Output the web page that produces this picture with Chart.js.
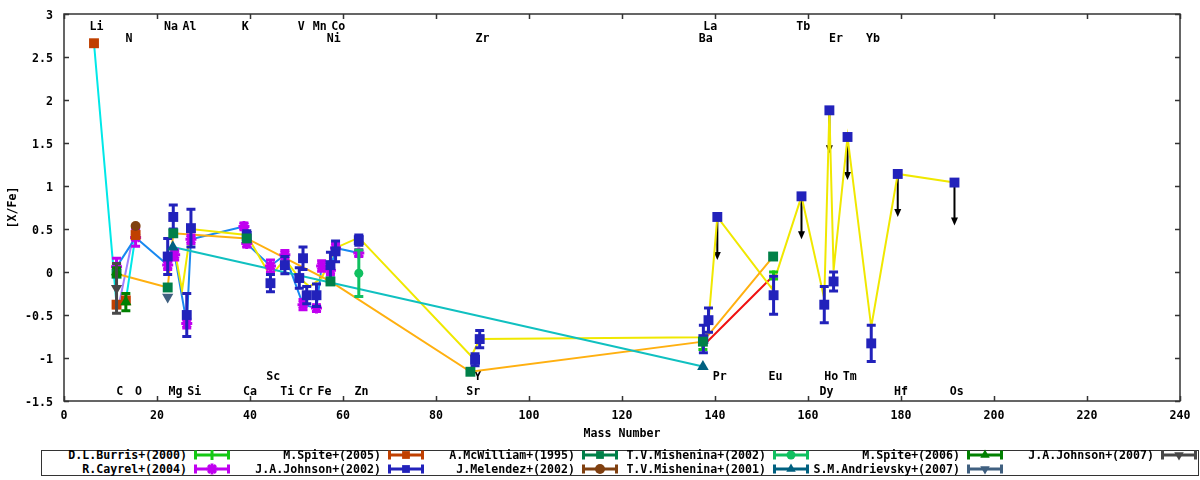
<!DOCTYPE html>
<html><head><meta charset="utf-8">
<script src="https://cdn.jsdelivr.net/npm/chart.js@4.4.1/dist/chart.umd.min.js"></script>
<style>
html,body{margin:0;padding:0;background:#fff;}
#wrap{position:relative;width:1200px;height:480px;overflow:hidden;background:#fff;}
#c{position:absolute;left:0;top:0;}
#legendBox{position:absolute;left:41px;top:449.5px;width:1158px;height:26.5px;border:1.5px solid #333;box-sizing:border-box;}
.lt{position:absolute;font:bold 11.6px "DejaVu Sans Mono",monospace;color:#000;white-space:nowrap;text-align:right;line-height:12px;width:220px;}
.ls{position:absolute;}
</style></head><body>
<div id="wrap"><canvas id="c" width="1200" height="446"></canvas><div id="legendBox"></div></div>
<script>
// ---------------- data ----------------
const elementNames = ['Li','N','Na','Al','K','V','Mn','Co','Ni','Zr','La','Ba','Tb','Er','Yb','Sc','Y','Pr','Eu','Ho','Tm','C','O','Mg','Si','Ca','Ti','Cr','Fe','Zn','Sr','Dy','Hf','Os'];
const elementMass  = [7,14,23,27,39,51,55,59,58,90,139,138,159,166,174,45,89,141,153,165,169,12,16,24,28,40,48,52,56,64,88,164,180,192];
const elementRow   = [0,1,0,0,0,0,0,0,1,1,0,1,0,1,1,2,2,2,2,2,2,3,3,3,3,3,3,3,3,3,3,3,3,3];

const xTicks = [0,20,40,60,80,100,120,140,160,180,200,220,240];
const yTicks = [-1.5,-1,-0.5,0,0.5,1,1.5,2,2.5,3];

const burrisX = [137.4, 152.6];
const burrisY = [-0.86, -0.04];
const burrisErr = [0.04, 0.04];

const cayrelX = [11.3, 15.4, 22.3, 23.8, 26.4, 27.3, 38.7, 39.3, 44.4, 47.5, 51.4, 54.3, 55.4, 57.3, 58.4, 63.4];
const cayrelY = [0.06, 0.40, 0.08, 0.20, -0.60, 0.38, 0.53, 0.33, 0.07, 0.20, -0.38, -0.42, 0.07, 0.02, 0.28, 0.22];
const cayrelErr = [0.10, 0.10, 0.05, 0.06, 0.05, 0.05, 0.04, 0.04, 0.07, 0.05, 0.06, 0.04, 0.06, 0.05, 0.05, 0.04];

const spite05X = [6.45, 11.3, 13.3, 15.4];
const spite05Y = [2.66, -0.38, -0.33, 0.43];
const spite05Err = [0, 0, 0, 0];

const johnson02X = [22.3, 23.5, 26.4, 27.3, 39.3, 44.4, 47.5, 50.6, 51.4, 52.2, 54.3, 57.3, 58.4, 63.4, 88.4, 89.4, 137.5, 138.6, 152.6, 163.5, 165.5, 173.6];
const johnson02Y = [0.18, 0.64, -0.50, 0.51, 0.42, -0.13, 0.08, -0.07, 0.16, -0.27, -0.27, 0.08, 0.24, 0.37, -1.02, -0.78, -0.78, -0.56, -0.27, -0.38, -0.11, -0.83];
const johnson02Err = [0.21, 0.14, 0.25, 0.22, 0.06, 0.10, 0.10, 0.12, 0.13, 0.10, 0.13, 0.15, 0.12, 0.06, 0.07, 0.10, 0.16, 0.14, 0.22, 0.21, 0.11, 0.21];
const johnson02LimX = [140.5, 158.6, 164.6, 168.5, 179.3, 191.5];
const johnson02LimY = [0.64, 0.88, 1.88, 1.57, 1.14, 1.04];

const mcwilliamX = [11.3, 22.3, 23.5, 39.3, 57.3, 87.4, 137.4, 152.5];
const mcwilliamY = [-0.02, -0.18, 0.45, 0.39, -0.11, -1.16, -0.81, 0.18];

const melendezX = [15.4];
const melendezY = [0.535];

const mishenina02X = [63.4];
const mishenina02Y = [-0.015];
const mishenina02Err = [0.27];

const mishenina01X = [23.4, 137.4];
const mishenina01Y = [0.29, -1.10];

const spite06X = [11.3, 13.3];
const spite06Y = [0.0, -0.35];
const spite06Err = [0.05, 0.10];

const andrievskyX = [22.3];
const andrievskyY = [-0.29];

const johnson07X = [11.3];
const johnson07Y = [-0.19];
const johnson07Err = [0.29];

// connecting lines of individual stars
const linkYellowX = [23.8, 25.4, 27.3, 39.3, 44.4, 47.5, 50.6, 52.8, 55.4, 58.4, 63.4, 87.6, 89.4, 137.5, 138.4, 140.5, 152.2, 158.6, 163.5, 164.6, 165.5, 168.5, 173.6, 179.3, 191.5];
const linkYellowY = [0.25, -0.21, 0.50, 0.43, -0.05, 0.15, -0.07, -0.17, -0.07, 0.28, 0.40, -0.98, -0.78, -0.76, -0.71, 0.64, -0.19, 0.88, -0.31, 1.88, 0.02, 1.57, -0.64, 1.14, 1.04];
const linkPurpleX = [12.0, 15.2];
const linkPurpleY = [-0.33, 0.50];

// ---------------- style ----------------
const FONT_FAMILY = '"DejaVu Sans Mono", monospace';
const FONT = {family: FONT_FAMILY, size: 11.6, weight: 'bold'};
const labelRowLevel = [2.87, 2.73, -1.2, -1.37];
const LIMIT_LEN = 0.5;

function pts(xs, ys){ return xs.map((v,i)=>({x:v, y:ys[i]})); }

const series = [
  {label:'D.L.Burris+(2000)', x:burrisX, y:burrisY, err:burrisErr, color:'#14c814', style:'line', r:5, rot:90, bw:3, col:0, row:0},
  {label:'R.Cayrel+(2004)', x:cayrelX, y:cayrelY, err:cayrelErr, color:'#c000f0', style:'star', r:5.5, rot:0, bw:3, col:0, row:1},
  {label:'M.Spite+(2005)', x:spite05X, y:spite05Y, err:spite05Err, color:'#c04000', style:'rect', r:7, rot:0, bw:0, col:1, row:0},
  {label:'J.A.Johnson+(2002)', x:johnson02X, y:johnson02Y, err:johnson02Err, color:'#2222bb', style:'rect', r:7, rot:0, bw:0, col:1, row:1},
  {label:'A.McWilliam+(1995)', x:mcwilliamX, y:mcwilliamY, err:null, color:'#008048', style:'rect', r:7, rot:0, bw:0, col:2, row:0},
  {label:'J.Melendez+(2002)', x:melendezX, y:melendezY, err:null, color:'#804010', style:'circle', r:5, rot:0, bw:0, col:2, row:1},
  {label:'T.V.Mishenina+(2002)', x:mishenina02X, y:mishenina02Y, err:mishenina02Err, color:'#10c060', style:'circle', r:4.5, rot:0, bw:0, col:3, row:0},
  {label:'T.V.Mishenina+(2001)', x:mishenina01X, y:mishenina01Y, err:null, color:'#006080', style:'triangle', r:6.7, rot:0, bw:0, col:3, row:1},
  {label:'M.Spite+(2006)', x:spite06X, y:spite06Y, err:spite06Err, color:'#008000', style:'triangle', r:6.5, rot:0, bw:0, col:4, row:0},
  {label:'S.M.Andrievsky+(2007)', x:andrievskyX, y:andrievskyY, err:null, color:'#406080', style:'triangle', r:6.5, rot:180, bw:0, col:4, row:1},
  {label:'J.A.Johnson+(2007)', x:johnson07X, y:johnson07Y, err:johnson07Err, color:'#484848', style:'triangle', r:6.5, rot:180, bw:0, col:5, row:0}
];

const links = [
  {x:spite05X, y:spite05Y, color:'#00e8e8'},
  {x:mishenina01X, y:mishenina01Y, color:'#10c0c0'},
  {x:mcwilliamX, y:mcwilliamY, color:'#ffb010'},
  {x:linkYellowX, y:linkYellowY, color:'#f0e800'},
  {x:cayrelX, y:cayrelY, color:'#1888f0'},
  {x:burrisX, y:burrisY, color:'#f01010'},
  {x:linkPurpleX, y:linkPurpleY, color:'#a080ff'}
];

const datasets = [];
links.forEach(l => datasets.push({
  type:'line', data:pts(l.x,l.y), borderColor:l.color, borderWidth:2, pointRadius:0,
  fill:false, tension:0, order:50
}));
series.forEach((s,i) => {
  datasets.push({
    type:'scatter', label:s.label, data:pts(s.x,s.y), errs:s.err, errColor:s.color,
    pointStyle:s.style, pointRadius:s.r, pointRotation:s.rot,
    backgroundColor:s.color, borderColor:s.color, pointBorderWidth:s.bw,
    order: 30 - i*2
  });
  if (s.label === 'J.A.Johnson+(2002)') {
    datasets.push({
      type:'scatter', label:'', data:pts(johnson02LimX, johnson02LimY), limits:true,
      pointStyle:'rect', pointRadius:s.r, backgroundColor:s.color, borderColor:s.color,
      pointBorderWidth:0, order: 30 - i*2 - 1
    });
  }
});

const overlay = {
  id:'overlay',
  beforeDatasetsDraw(chart){
    const {ctx, scales:{x, y}} = chart;
    ctx.save();
    ctx.font = 'bold 11.6px ' + FONT_FAMILY;
    ctx.fillStyle = '#000'; ctx.textAlign = 'center'; ctx.textBaseline = 'middle';
    elementNames.forEach((n,i) => ctx.fillText(n, x.getPixelForValue(elementMass[i]), y.getPixelForValue(labelRowLevel[elementRow[i]]) + 2));
    // upper-limit arrows (under the connecting lines)
    ctx.strokeStyle = '#000'; ctx.fillStyle = '#000'; ctx.lineWidth = 2;
    chart.data.datasets.forEach(ds => {
      if (!ds.limits) return;
      ds.data.forEach(p => {
        const px = x.getPixelForValue(p.x);
        const y1 = y.getPixelForValue(p.y), y2 = y.getPixelForValue(p.y - LIMIT_LEN);
        ctx.beginPath(); ctx.moveTo(px, y1); ctx.lineTo(px, y2 - 6); ctx.stroke();
        ctx.beginPath(); ctx.moveTo(px - 3.5, y2 - 8); ctx.lineTo(px + 3.5, y2 - 8); ctx.lineTo(px, y2); ctx.closePath(); ctx.fill();
      });
    });
    ctx.restore();
  },
  beforeDatasetDraw(chart, args){
    const ds = chart.data.datasets[args.index];
    const {ctx, scales:{x, y}} = chart;
    if (ds.errs) {
      ctx.save();
      ctx.strokeStyle = ds.errColor; ctx.lineWidth = 3; ctx.lineCap = 'butt';
      ds.data.forEach((p,i) => {
        const e = ds.errs[i]; if (!e) return;
        const px = x.getPixelForValue(p.x);
        const y1 = y.getPixelForValue(p.y + e), y2 = y.getPixelForValue(p.y - e);
        ctx.beginPath();
        ctx.moveTo(px, y1); ctx.lineTo(px, y2);
        ctx.moveTo(px - 4.5, y1); ctx.lineTo(px + 4.5, y1);
        ctx.moveTo(px - 4.5, y2); ctx.lineTo(px + 4.5, y2);
        ctx.stroke();
      });
      ctx.restore();
    }
  },
  afterDraw(chart){
    const {ctx, chartArea:a, scales:{x, y}} = chart;
    ctx.save();
    ctx.strokeStyle = '#333'; ctx.lineWidth = 1.5;
    ctx.strokeRect(a.left, a.top, a.right - a.left, a.bottom - a.top);
    ctx.beginPath();
    const L = 5;
    xTicks.forEach(v => {
      const px = Math.round(x.getPixelForValue(v)) + 0.5;
      ctx.moveTo(px, a.bottom); ctx.lineTo(px, a.bottom - L);
      ctx.moveTo(px, a.top); ctx.lineTo(px, a.top + L);
    });
    yTicks.forEach(v => {
      const py = Math.round(y.getPixelForValue(v)) + 0.5;
      ctx.moveTo(a.left, py); ctx.lineTo(a.left + L, py);
      ctx.moveTo(a.right, py); ctx.lineTo(a.right - L, py);
    });
    ctx.stroke();
    ctx.restore();
  }
};

const chart = new Chart(document.getElementById('c'), {
  data:{datasets},
  options:{
    responsive:false, animation:false, events:[],
    layout:{padding:{left:0, right:20, top:14, bottom:0}},
    plugins:{legend:{display:false}, tooltip:{enabled:false}},
    scales:{
      x:{type:'linear', min:0, max:240, afterFit(s){ s.height = 45; },
        afterBuildTicks(s){ s.ticks = xTicks.map(v=>({value:v})); },
        grid:{display:false}, border:{display:false},
        ticks:{autoSkip:false, maxRotation:0, font:FONT, color:'#000', padding:0, callback:v => String(v)},
        title:{display:true, text:'Mass Number', font:FONT, color:'#000', padding:{top:0, bottom:5}}
      },
      y:{type:'linear', min:-1.5, max:3, afterFit(s){ s.width = 64; },
        afterBuildTicks(s){ s.ticks = yTicks.map(v=>({value:v})); },
        grid:{display:false}, border:{display:false},
        ticks:{autoSkip:false, font:FONT, color:'#000', padding:3, labelOffset:2, callback:v => String(v)},
        title:{display:true, text:'[X/Fe]', font:FONT, color:'#000', padding:{top:6, bottom:0}}
      }
    }
  },
  plugins:[overlay]
});

// ---------------- legend ----------------
function drawMarker(g, style, r, rot, cx, cy){
  g.beginPath();
  if (style === 'rect') {
    const h = r * Math.SQRT1_2;
    g.fillRect(cx - h, cy - h, 2*h, 2*h);
  } else if (style === 'circle') {
    g.arc(cx, cy, r, 0, Math.PI*2); g.fill();
  } else if (style === 'triangle') {
    const s = rot === 180 ? -1 : 1;
    for (let k = 0; k < 3; k++) {
      const ang = k * 2*Math.PI/3;
      const px = cx + Math.sin(ang)*r, py = cy - s*Math.cos(ang)*r;
      if (k === 0) g.moveTo(px, py); else g.lineTo(px, py);
    }
    g.closePath(); g.fill();
  } else if (style === 'star') {
    g.lineWidth = 3;
    g.moveTo(cx - r, cy); g.lineTo(cx + r, cy);
    g.moveTo(cx, cy - r); g.lineTo(cx, cy + r);
    const d = r*0.707;
    g.moveTo(cx - d, cy - d); g.lineTo(cx + d, cy + d);
    g.moveTo(cx - d, cy + d); g.lineTo(cx + d, cy - d);
    g.stroke();
  } else if (style === 'line') {
    g.lineWidth = 3;
    g.moveTo(cx, cy - r); g.lineTo(cx, cy + r); g.stroke();
  }
}
const symLeft = [193, 387, 581, 772, 966, 1160];
const rowCenter = [455.3, 469.3];
const wrap = document.getElementById('wrap');
series.forEach(s => {
  const t = document.createElement('div');
  t.className = 'lt';
  t.textContent = s.label;
  t.style.left = (symLeft[s.col] - 6 - 220) + 'px';
  t.style.top = (rowCenter[s.row] - 6.2) + 'px';
  wrap.appendChild(t);
  const cv = document.createElement('canvas');
  cv.className = 'ls'; cv.width = 38; cv.height = 14;
  cv.style.left = symLeft[s.col] + 'px';
  cv.style.top = (rowCenter[s.row] - 7) + 'px';
  wrap.appendChild(cv);
  const g = cv.getContext('2d');
  g.strokeStyle = s.color; g.fillStyle = s.color; g.lineWidth = 3;
  g.beginPath();
  g.moveTo(1, 7); g.lineTo(37, 7);
  g.moveTo(2.5, 2.5); g.lineTo(2.5, 11.5);
  g.moveTo(35.5, 2.5); g.lineTo(35.5, 11.5);
  g.stroke();
  drawMarker(g, s.style, Math.min(s.r, 5.5), s.rot, 19, 7);
});
</script></body></html>
